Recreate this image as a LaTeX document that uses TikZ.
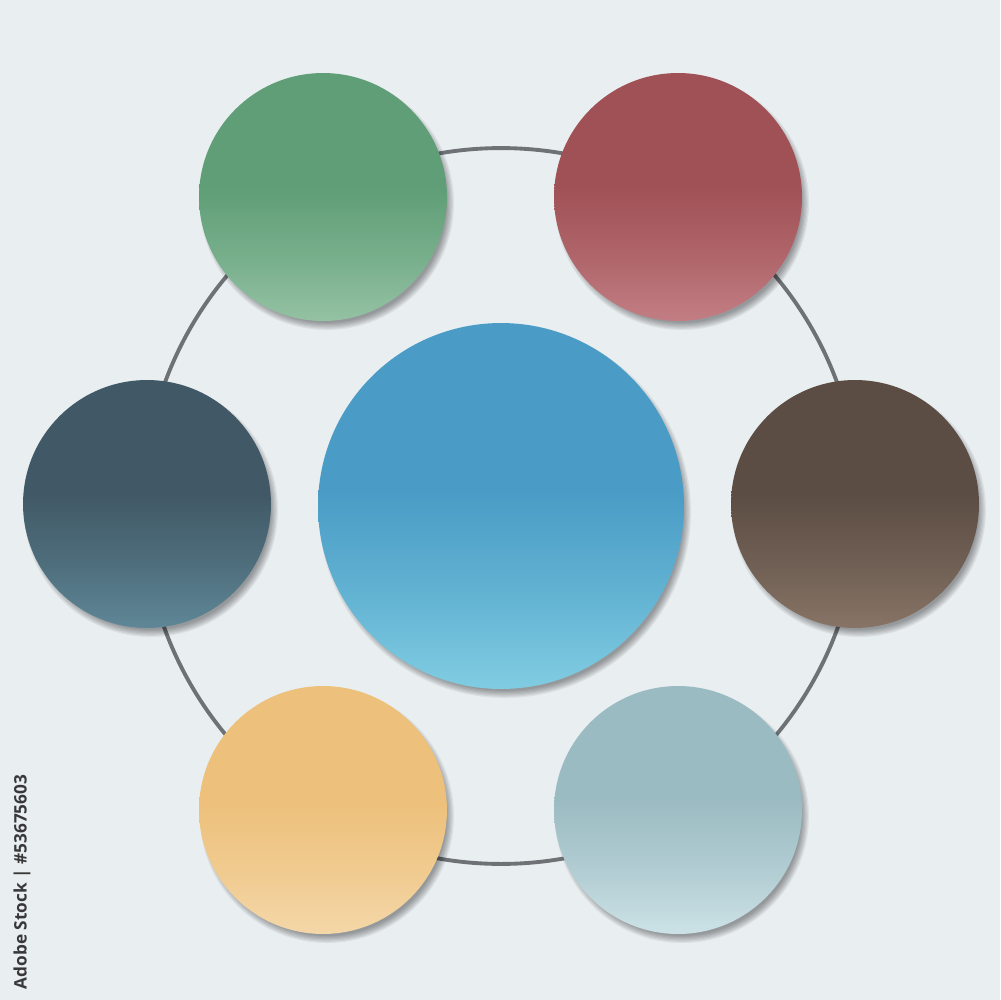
\documentclass[tikz,border=0pt]{standalone}
\usepackage{fontspec}
\setsansfont{Open Sans}
\definecolor{bg}{HTML}{E9EEF1}
\definecolor{ring}{HTML}{6E7276}
\definecolor{gT}{HTML}{5F9E77}\definecolor{gB}{HTML}{94C2A3}
\definecolor{rT}{HTML}{A05155}\definecolor{rB}{HTML}{C27E84}
\definecolor{dT}{HTML}{415966}\definecolor{dB}{HTML}{5F8797}
\definecolor{bT}{HTML}{5C4D44}\definecolor{bB}{HTML}{877466}
\definecolor{oT}{HTML}{EDC07B}\definecolor{oB}{HTML}{F4D7A8}
\definecolor{lT}{HTML}{9BBBC2}\definecolor{lB}{HTML}{CCE2E6}
\definecolor{cT}{HTML}{4A9CC6}\definecolor{cB}{HTML}{80CDE2}
\newcommand{\myshade}[3]{\pgfdeclareverticalshading{#1}{100bp}{color(0bp)=(#3); color(25bp)=(#3); color(38bp)=(#2!55!#3); color(52bp)=(#2); color(100bp)=(#2)}}
\myshade{shG}{gT}{gB}
\myshade{shR}{rT}{rB}
\myshade{shD}{dT}{dB}
\myshade{shB}{bT}{bB}
\myshade{shO}{oT}{oB}
\myshade{shL}{lT}{lB}
\myshade{shC}{cT}{cB}
\begin{document}
\begin{tikzpicture}[x=0.02cm,y=-0.02cm,
  disc/.style={circle,inner sep=0pt,minimum size=4.96cm},
  bigdisc/.style={circle,inner sep=0pt,minimum size=7.32cm},
  ringline/.style={draw=ring,line width=2.2pt},
  shadowlayer/.style={fill=black,fill opacity=0.06}]
\fill[bg] (0,0) rectangle (1000,1000);
\useasboundingbox (0,0) rectangle (1000,1000);
\coordinate (mid) at (501,506);
\draw[ringline] (mid) circle (7.16cm);
% soft drop shadows
\foreach \cx/\cy/\r in {501/506/183,323/197/124,678/197/124,147/504/124,855/504/124,323/810/124,678/810/124}{
  \foreach \k in {0,...,6}{
    \fill[shadowlayer] (\cx+4,\cy+6) circle ({(\r+3-\k*1.2)*0.02cm});
  }
}
\node[bigdisc,shading=shC] (center) at (mid) {};
\node[disc,shading=shG] (green) at (323,197) {};
\node[disc,shading=shR] (red) at (678,197) {};
\node[disc,shading=shD] (slate) at (147,504) {};
\node[disc,shading=shB] (brown) at (855,504) {};
\node[disc,shading=shO] (orange) at (323,810) {};
\node[disc,shading=shL] (pale) at (678,810) {};
\node[rotate=90,text=black!78,font=\sffamily\bfseries\fontsize{9.8pt}{12pt}\selectfont,inner sep=0pt] (credit) at (22,882) {Adobe Stock | \#53675603};
\end{tikzpicture}
\end{document}
